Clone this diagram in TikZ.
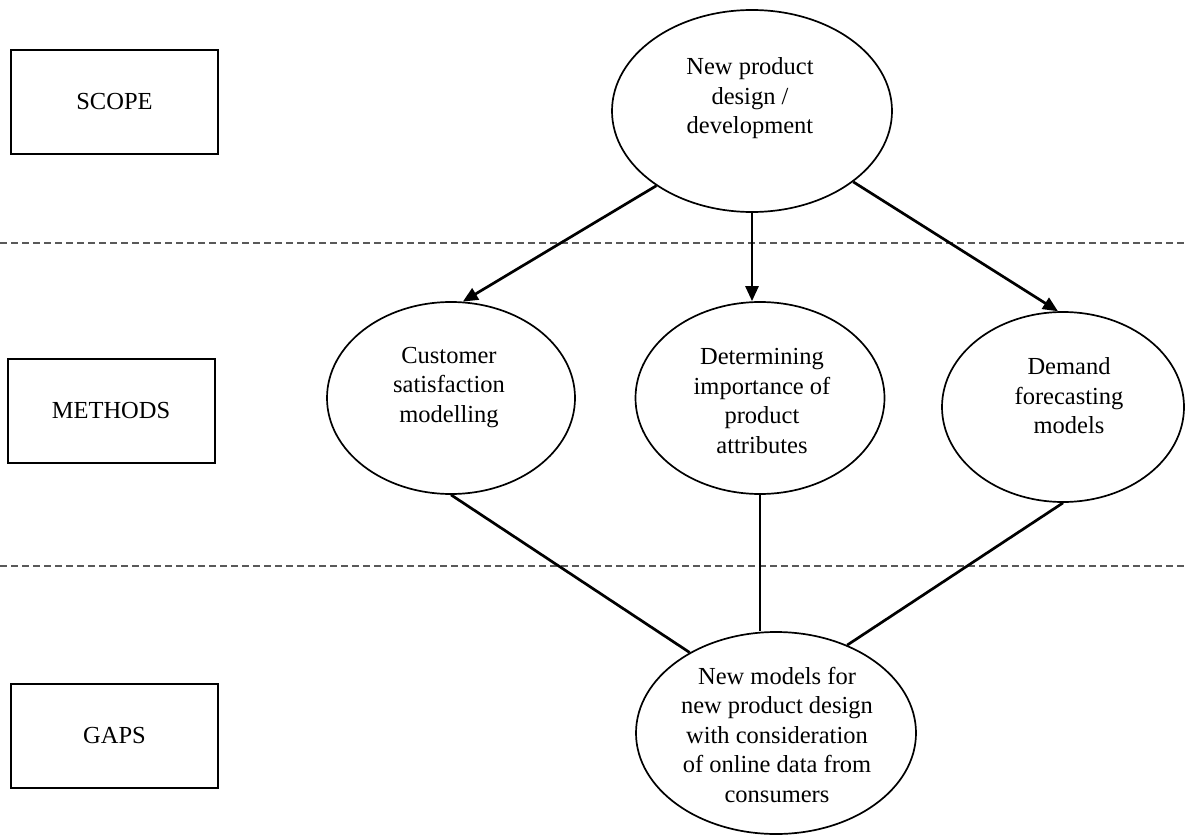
\documentclass[tikz,border=0pt]{standalone}
\usepackage{fontspec}
\setmainfont{Liberation Serif}
\usetikzlibrary{shapes.geometric,arrows.meta}
\begin{document}
\begin{tikzpicture}[x=1pt,y=-1pt,
  every node/.style={inner sep=0pt},
  txt/.style={font=\fontsize{24.5}{29.5}\selectfont, align=center,
    execute at begin node=\strut, execute at end node=\strut},
  oval/.style={draw, ellipse, line width=1.7pt},
  panel/.style={draw, line width=2pt, minimum width=207pt, minimum height=104pt,
    font=\fontsize{24.5}{29.5}\selectfont},
  divider/.style={draw=black!65, line width=2pt, dash pattern=on 7pt off 4pt},
  link/.style={line width=2.7pt},
  flow/.style={link, -{Triangle[length=15pt,width=13pt]}}]

\useasboundingbox (0,0) rectangle (1186,837);

% row labels
\node[panel] (scope)   at (114.5,102) {SCOPE};
\node[panel] (methods) at (111,411)   {METHODS};
\node[panel] (gaps)    at (114.5,736) {GAPS};

% row separators
\coordinate (s1a) at (0,243);    \coordinate (s1b) at (1186,243);
\coordinate (s2a) at (0,566);    \coordinate (s2b) at (1186,566);
\draw[divider] (s1a) -- (s1b);
\draw[divider] (s2a) -- (s2b);

% ovals
\node[oval, minimum width=280pt, minimum height=202pt] (npd)  at (752,111) {};
\node[oval, minimum width=248pt, minimum height=192pt] (cust) at (451,398) {};
\node[oval, minimum width=249pt, minimum height=192pt] (det)  at (760,398) {};
\node[oval, minimum width=242pt, minimum height=190pt] (dem)  at (1063,407) {};
\node[oval, minimum width=280pt, minimum height=202pt] (gap)  at (776,733) {};

% oval texts
\node[txt] (npdT)  at (750,100)   {New product\\design /\\development};
\node[txt] (custT) at (449,389)   {Customer\\satisfaction\\modelling};
\node[txt] (detT)  at (762,405.5) {Determining\\importance of\\product\\attributes};
\node[txt] (demT)  at (1069,400)  {Demand\\forecasting\\models};
\node[txt] (gapT)  at (777,739)   {New models for\\new product design\\with consideration\\of online data from\\consumers};

% scope -> methods
\draw[flow] (npd.218) -- (cust.83);
\draw[flow] (npd.south) -- (npd.south |- det.north);
\draw[flow] (npd.-35.5) -- (dem.93.5);

% methods -> gaps
\draw[link] (cust.south) -- (gap.137);
\draw[link] (det.south) -- (det.south |- gap.north);
\draw[link] (dem.south) -- (gap.51.6);
\end{tikzpicture}
\end{document}
